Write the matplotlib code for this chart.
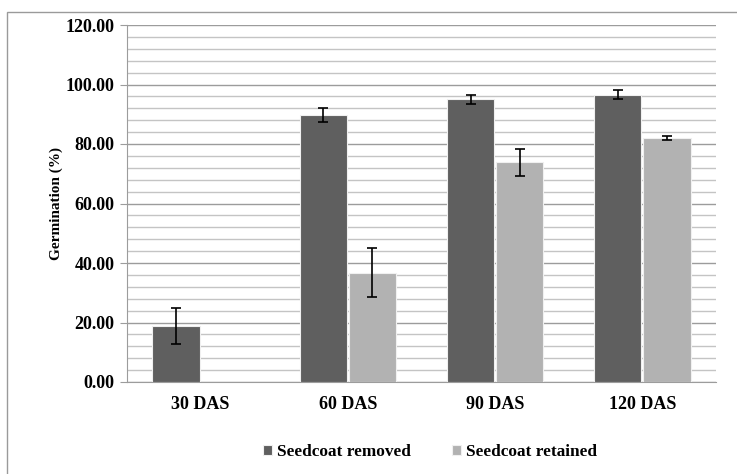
import numpy as np
import matplotlib.pyplot as plt
from matplotlib.patches import Rectangle
from matplotlib.ticker import MultipleLocator

plt.rcParams['font.family'] = ['Liberation Serif', 'DejaVu Serif']
plt.rcParams['font.weight'] = 'bold'

days = ['30 DAS', '60 DAS', '90 DAS', '120 DAS']
removed = [18.9, 89.8, 95.0, 96.5]
removed_err = [6.1, 2.3, 1.6, 1.5]
retained = [0.0, 36.8, 73.8, 82.0]
retained_err = [0.0, 8.2, 4.6, 0.8]

fig = plt.figure(figsize=(7.37, 4.74), dpi=100)
fig.patches.append(Rectangle((7 / 737, -0.01), 1.0, 1 - 12 / 474 + 0.01,
                             transform=fig.transFigure, fill=False,
                             edgecolor='#9a9a9a', linewidth=1.0))
ax = fig.add_axes([127 / 737, 1 - 382 / 474, (716 - 127) / 737, (382 - 25) / 474])

x = np.arange(len(days))
w = 0.32
off = 0.167
ekw = dict(elinewidth=1.2, capthick=1.2, ecolor='black')
ax.bar(x - off, removed, w, yerr=removed_err, capsize=3.5, color='#5f5f5f',
       edgecolor='#f0f0f0', linewidth=0.8, error_kw=ekw, label='Seedcoat removed', zorder=3)
ax.bar(x + off, retained, w, yerr=[e if v > 0 else np.nan for v, e in zip(retained, retained_err)],
       capsize=3.5, color='#b2b2b2', edgecolor='#f0f0f0', linewidth=0.8, error_kw=ekw,
       label='Seedcoat retained', zorder=3)

ax.set_xlim(-0.5, 3.5)
ax.set_ylim(0, 120)
ax.yaxis.set_major_locator(MultipleLocator(20))
ax.yaxis.set_minor_locator(MultipleLocator(4))
ax.grid(axis='y', which='major', color='#9c9c9c', linewidth=1.0, zorder=0)
ax.grid(axis='y', which='minor', color='#c4c4c4', linewidth=1.0, zorder=0)
ax.set_axisbelow(True)

for side in ['top', 'right']:
    ax.spines[side].set_visible(False)
ax.spines['left'].set_color('#9c9c9c')
ax.spines['bottom'].set_color('#9c9c9c')
ax.spines['left'].set_zorder(1)

ax.set_xticks(x)
ax.set_xticklabels(days, fontsize=13, fontweight='bold')
ax.tick_params(axis='x', length=0, pad=10)
ax.set_yticks(np.arange(0, 121, 20))
ax.set_yticklabels(['%.2f' % v for v in np.arange(0, 121, 20)], fontsize=13, fontweight='bold')
ax.tick_params(axis='y', which='major', length=5, color='#9c9c9c', pad=4)
ax.tick_params(axis='y', which='minor', length=0)
ax.set_ylabel('Germination (%)', fontsize=11, fontweight='bold', labelpad=2)

ax.legend(loc='upper center', bbox_to_anchor=(0.515, -0.13), ncol=2, frameon=False,
          fontsize=12.4, handlelength=0.5, handleheight=0.5, handletextpad=0.3,
          columnspacing=2.4)

fig.savefig('out.png', dpi=100)
